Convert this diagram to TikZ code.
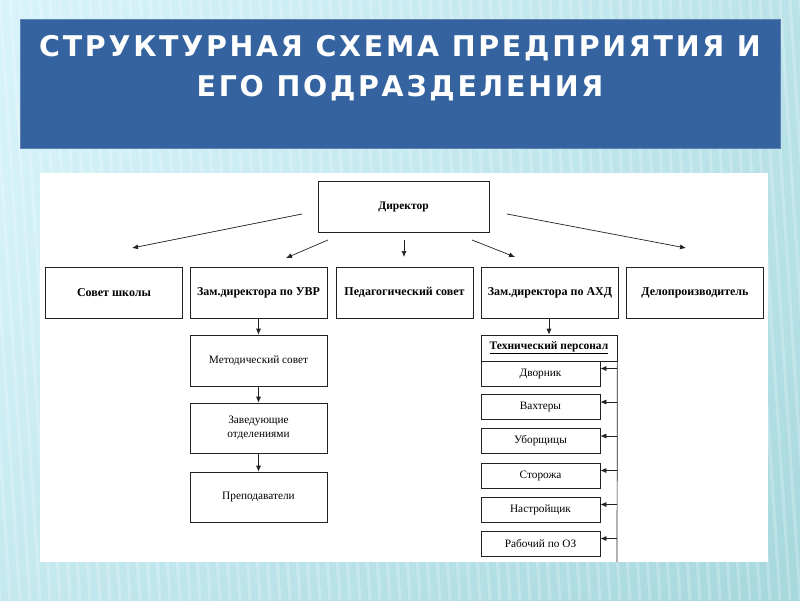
\documentclass[tikz,border=0pt]{standalone}
\usepackage{fontspec}
\setmainfont{Liberation Serif}
\newfontfamily\titlefont[LetterSpace=9.5]{DejaVu Sans}
\usetikzlibrary{arrows.meta,calc}
\definecolor{bgtop}{HTML}{D8F4FA}
\definecolor{bgbot}{HTML}{A6D8DE}
\definecolor{titleblue}{HTML}{3463A0}
\definecolor{lnc}{HTML}{222222}
\tikzset{
  box/.style={draw=lnc, line width=0.7pt, fill=white, inner sep=1pt, align=center},
  bigbox/.style={box, minimum width=137pt, minimum height=51pt},
  smallbox/.style={box, minimum width=119pt, minimum height=25pt},
  boldtxt/.style={font=\fontsize{12}{13}\selectfont\bfseries},
  hdrtxt/.style={font=\fontsize{11.5}{13}\selectfont\bfseries},
  regtxt/.style={font=\fontsize{11.3}{14}\selectfont},
  arr/.style={draw=lnc, line width=0.7pt, -{Latex[length=6pt,width=5pt]}},
  stripe/.style={white, opacity=0.22, line width=3pt}
}
\begin{document}
\begin{tikzpicture}[x=1pt,y=-1pt]
\useasboundingbox (0,0) rectangle (800,600);
% background
\shade[top color=bgtop, bottom color=bgbot, middle color=bgtop!70!bgbot] (0,0) rectangle (800,600);
\shade[left color=bgtop, right color=bgbot, opacity=0.6] (0,0) rectangle (800,600);
\foreach \i in {-60,-50,...,830} {
  \draw[stripe] (\i,0) -- (\i+40,600);
}
% title
\fill[titleblue] (20,19) rectangle (780,148);
\draw[titleblue!80!white, line width=0.8pt] (20,19) rectangle (780,148);
\node[text=white, align=center, font=\titlefont\bfseries\fontsize{28.5}{40}\selectfont] (title) at (400,68)
  {СТРУКТУРНАЯ СХЕМА ПРЕДПРИЯТИЯ И\\ЕГО ПОДРАЗДЕЛЕНИЯ};
% panel
\fill[white] (40,173) rectangle (768,562);
% top
\node[box, hdrtxt, minimum width=171pt, minimum height=51pt] (dir) at (403.5,206.5) {Директор};
\node[bigbox, boldtxt] (sovet) at (114,292.5) {Совет школы};
\node[bigbox, boldtxt] (uvr) at (258.5,292.5) {Зам.директора по УВР};
\node[bigbox, boldtxt] (ped) at (404.5,292.5) {Педагогический совет};
\node[bigbox, boldtxt] (ahd) at (550,292.5) {Зам.директора по АХД};
\node[bigbox, boldtxt] (delo) at (695,292.5) {Делопроизводитель};
% arrows from director (free-standing as in the reference)
\coordinate (a1s) at (302,214); \coordinate (a1e) at (132,248);
\coordinate (a2s) at (328,240); \coordinate (a2e) at (286,258);
\coordinate (a3s) at (404,240); \coordinate (a3e) at (404,257);
\coordinate (a4s) at (472,240); \coordinate (a4e) at (515,257);
\coordinate (a5s) at (507,214); \coordinate (a5e) at (686,248);
\draw[arr] (a1s) -- (a1e);
\draw[arr] (a2s) -- (a2e);
\draw[arr] (a3s) -- (a3e);
\draw[arr] (a4s) -- (a4e);
\draw[arr] (a5s) -- (a5e);
% left column
\node[bigbox, regtxt] (met) at (258.5,360.5) {Методический совет};
\node[bigbox, regtxt, minimum height=50pt] (zav) at (258.5,428) {Заведующие\\отделениями};
\node[bigbox, regtxt, minimum height=50pt] (prep) at (258.5,497) {Преподаватели};
\draw[arr] (uvr.south) -- (met.north);
\draw[arr] (met.south) -- (zav.north);
\draw[arr] (zav.south) -- (prep.north);
% right column
\node[box, hdrtxt, minimum width=136pt, minimum height=26pt] (tech) at (549,348) {\underline{Технический персонал}};
\node[smallbox, regtxt] (d1) at (540.5,373.5) {Дворник};
\node[smallbox, regtxt] (d2) at (540.5,407) {Вахтеры};
\node[smallbox, regtxt] (d3) at (540.5,441) {Уборщицы};
\node[smallbox, regtxt] (d4) at (540.5,475.5) {Сторожа};
\node[smallbox, regtxt] (d5) at (540.5,509.5) {Настройщик};
\node[smallbox, regtxt] (d6) at (540.5,543.5) {Рабочий по ОЗ};
\draw[arr] (ahd.south -| tech.north) -- (tech.north);
\coordinate (tb) at (617,562);
\draw[draw=lnc, line width=0.7pt] (tech.south east) -- (tb);
\foreach \k in {1,...,6} {
  \coordinate (p\k) at ([yshift=5pt]d\k.east);
  \draw[arr] (p\k -| tb) -- (p\k);
}
\end{tikzpicture}
\end{document}
